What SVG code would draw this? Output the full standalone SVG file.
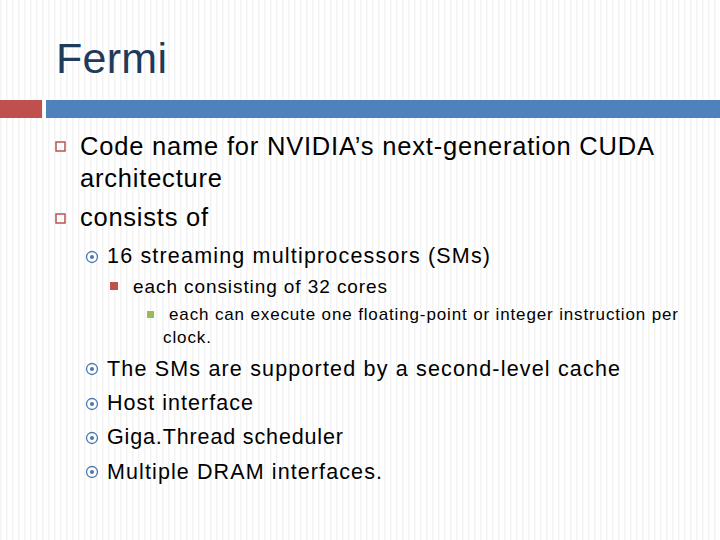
<svg xmlns="http://www.w3.org/2000/svg" width="720" height="540" viewBox="0 0 720 540">
<defs>
<pattern id="st" width="6" height="10" patternUnits="userSpaceOnUse"><rect width="6" height="10" fill="#fff"/><rect width="1.5" height="10" fill="#f3f3f3"/></pattern>
<g id="cb"><circle r="5.5" fill="none" stroke="#4a7ab0" stroke-width="1.3"/><circle r="2" fill="#4a7ab0"/></g>
</defs>
<style>text{font-family:"Liberation Sans",Arial,sans-serif;fill:#000}.l1{font-size:25.5px}.l2{font-size:21.5px}.l3{font-size:19px}.l4{font-size:17px}.sq{fill:none;stroke:#b85450;stroke-width:1.5}</style>
<rect width="720" height="540" fill="url(#st)"/>
<text x="56" y="73" style="font-size:43px;fill:#1f3a5a" textLength="111" lengthAdjust="spacing">Fermi</text>
<rect x="0" y="100" width="42" height="18" fill="#c0504d"/>
<rect x="46" y="100" width="674" height="18" fill="#4f81bd"/>
<g id="b1"><rect class="sq" x="56" y="142" width="9" height="9"/><text class="l1" x="80" y="155" textLength="574" lengthAdjust="spacing">Code name for NVIDIA’s next-generation CUDA</text><text class="l1" x="80" y="187" textLength="142" lengthAdjust="spacing">architecture</text></g>
<g id="b2"><rect class="sq" x="56" y="214" width="9" height="9"/><text class="l1" x="80" y="226" textLength="128" lengthAdjust="spacing">consists of</text></g>
<use href="#cb" x="92" y="257"/><text class="l2" x="107" y="263" textLength="383" lengthAdjust="spacing">16 streaming multiprocessors (SMs)</text>
<rect x="110" y="282" width="8" height="8" fill="#c0504d"/><text class="l3" x="133" y="293" textLength="254" lengthAdjust="spacing">each consisting of 32 cores</text>
<rect x="147" y="311" width="7" height="7" fill="#9bbb59"/><text class="l4" x="169" y="320" textLength="509" lengthAdjust="spacing">each can execute one floating-point or integer instruction per</text><text class="l4" x="163" y="343" textLength="48" lengthAdjust="spacing">clock.</text>
<use href="#cb" x="92" y="369"/><text class="l2" x="107" y="376" textLength="513" lengthAdjust="spacing">The SMs are supported by a second-level cache</text>
<use href="#cb" x="92" y="404"/><text class="l2" x="107" y="410" textLength="146" lengthAdjust="spacing">Host interface</text>
<use href="#cb" x="92" y="438"/><text class="l2" x="107" y="444" textLength="236" lengthAdjust="spacing">Giga.Thread scheduler</text>
<use href="#cb" x="92" y="472"/><text class="l2" x="107" y="479" textLength="275" lengthAdjust="spacing">Multiple DRAM interfaces.</text>
</svg>
